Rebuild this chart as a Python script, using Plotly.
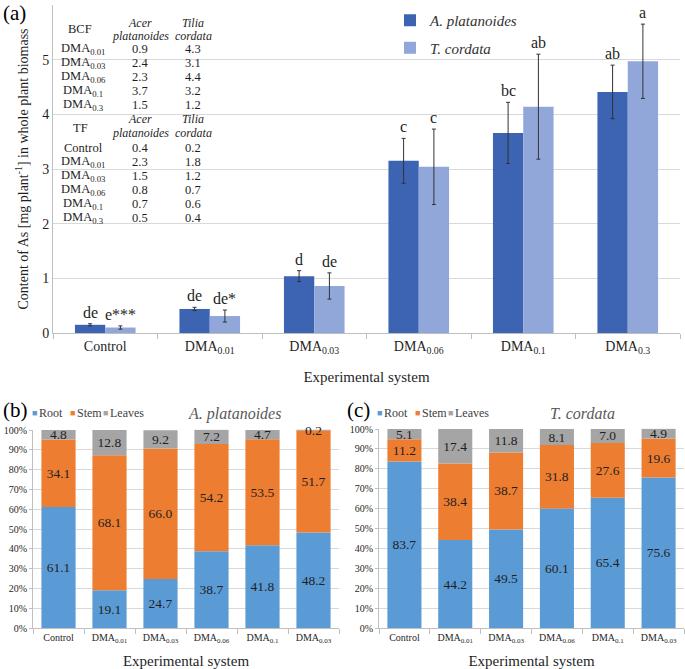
import numpy as np
import plotly.graph_objects as go

W, H = 685, 669
def px(x): return x / W
def py(y): return 1 - y / H

SERIF = "Liberation Serif"

# ---------- Panel (a) data ----------
cats_a = ["Control", "DMA<sub>0.01</sub>", "DMA<sub>0.03</sub>", "DMA<sub>0.06</sub>",
          "DMA<sub>0.1</sub>", "DMA<sub>0.3</sub>"]
acer_vals = [0.15, 0.44, 1.04, 3.15, 3.66, 4.41]
acer_err = [0.02, 0.03, 0.10, 0.41, 0.56, 0.49]
tilia_vals = [0.10, 0.31, 0.86, 3.04, 4.14, 4.97]
tilia_err = [0.03, 0.11, 0.24, 0.69, 0.96, 0.68]
acer_letters = ["de", "de", "d", "c", "bc", "ab"]
tilia_letters = ["e***", "de*", "de", "c", "ab", "a"]

# Table inside panel (a)
bcf_rows = ["DMA<sub>0.01</sub>", "DMA<sub>0.03</sub>", "DMA<sub>0.06</sub>", "DMA<sub>0.1</sub>", "DMA<sub>0.3</sub>"]
bcf_acer = ["0.9", "2.4", "2.3", "3.7", "1.5"]
bcf_tilia = ["4.3", "3.1", "4.4", "3.2", "1.2"]
tf_rows = ["Control", "DMA<sub>0.01</sub>", "DMA<sub>0.03</sub>", "DMA<sub>0.06</sub>", "DMA<sub>0.1</sub>", "DMA<sub>0.3</sub>"]
tf_acer = ["0.4", "2.3", "1.5", "0.8", "0.7", "0.5"]
tf_tilia = ["0.2", "1.8", "1.2", "0.7", "0.6", "0.4"]

# ---------- Panels (b), (c) data ----------
cats_bc = ["Control", "DMA<sub>0.01</sub>", "DMA<sub>0.03</sub>", "DMA<sub>0.06</sub>",
           "DMA<sub>0.1</sub>", "DMA<sub>0.03</sub>"]
parts = ["Root", "Stem", "Leaves"]
ap_root = [61.1, 19.1, 24.7, 38.7, 41.8, 48.2]
ap_stem = [34.1, 68.1, 66.0, 54.2, 53.5, 51.7]
ap_leaves = [4.8, 12.8, 9.2, 7.2, 4.7, 0.2]
tc_root = [83.7, 44.2, 49.5, 60.1, 65.4, 75.6]
tc_stem = [11.2, 38.4, 38.7, 31.8, 27.6, 19.6]
tc_leaves = [5.1, 17.4, 11.8, 8.1, 7.0, 4.9]

C_ACER = "#3D63B3"
C_TILIA = "#91A6D9"
C_ROOT = "#5B9BD5"
C_STEM = "#ED7D31"
C_LEAVES = "#A5A5A5"
GRID = "#D9D9D9"
AXL = "#BFBFBF"
TXT = "#1F1F1F"

fig = go.Figure()
xs = list(range(6))
BW = 0.29

fig.add_trace(go.Bar(
    x=xs, y=acer_vals, width=BW, offset=-BW, name="<i>A. platanoides</i>",
    marker=dict(color=C_ACER, line=dict(width=0)),
    error_y=dict(type="data", array=acer_err, color="#333333", thickness=1, width=2),
    xaxis="x", yaxis="y", legendgroup="a1"))
fig.add_trace(go.Bar(
    x=xs, y=tilia_vals, width=BW, offset=0, name="<i>T. cordata</i>",
    marker=dict(color=C_TILIA, line=dict(width=0)),
    error_y=dict(type="data", array=tilia_err, color="#333333", thickness=1, width=2),
    xaxis="x", yaxis="y", legendgroup="a2"))

annotations = []
for i in range(6):
    annotations.append(dict(x=i - BW / 2, y=acer_vals[i] + acer_err[i], xref="x", yref="y",
                            text=acer_letters[i], showarrow=False, yanchor="bottom", yshift=1,
                            font=dict(family=SERIF, size=16, color=TXT)))
    annotations.append(dict(x=i + BW / 2, y=tilia_vals[i] + tilia_err[i], xref="x", yref="y",
                            text=tilia_letters[i], showarrow=False, yanchor="bottom", yshift=1,
                            font=dict(family=SERIF, size=16, color=TXT)))

colors_bc = [C_ROOT, C_STEM, C_LEAVES]

def add_stack(root, stem, leaves, xa, ya):
    r = np.array(root); s = np.array(stem); l = np.array(leaves)
    segs = [(r, np.zeros(6)), (s, r), (l, r + s)]
    for name, (vals, base), col in zip(parts, segs, colors_bc):
        fig.add_trace(go.Bar(
            x=xs, y=vals, base=base, width=0.67, offset=-0.335, name=name, showlegend=False,
            marker=dict(color=col, line=dict(width=0)),
            text=[f"{v:.1f}" for v in vals], textposition="inside", insidetextanchor="middle",
            constraintext="none", cliponaxis=False,
            textfont=dict(family=SERIF, size=13.5, color=TXT), textangle=0,
            xaxis=xa, yaxis=ya))

add_stack(ap_root, ap_stem, ap_leaves, "x2", "y2")
add_stack(tc_root, tc_stem, tc_leaves, "x3", "y3")

def ptext(x, y, text, size=12.5, color=TXT, xanchor="center"):
    annotations.append(dict(x=px(x), y=py(y), xref="paper", yref="paper", text=text, showarrow=False,
                            xanchor=xanchor, yanchor="middle",
                            font=dict(family=SERIF, size=size, color=color)))

# Table
IT = 12
ptext(80, 29, "BCF"); ptext(140, 23, "<i>Acer</i>", IT); ptext(140, 36, "<i>platanoides</i>", IT)
ptext(193, 23, "<i>Tilia</i>", IT); ptext(193, 36, "<i>cordata</i>", IT)
for k, yy in enumerate([49, 63, 77, 91, 105]):
    ptext(83, yy, bcf_rows[k]); ptext(140, yy, bcf_acer[k]); ptext(193, yy, bcf_tilia[k])
ptext(80, 128, "TF"); ptext(140, 119, "<i>Acer</i>", IT); ptext(140, 133, "<i>platanoides</i>", IT)
ptext(193, 119, "<i>Tilia</i>", IT); ptext(193, 133, "<i>cordata</i>", IT)
for k, yy in enumerate([148, 162, 176, 190, 204, 218]):
    ptext(83, yy, tf_rows[k]); ptext(140, yy, tf_acer[k]); ptext(193, yy, tf_tilia[k])

# panel labels & titles
for lbl, x, y in [("(a)", 14, 13), ("(b)", 15, 410), ("(c)", 358, 410)]:
    ptext(x, y, lbl, size=21, color="black")
ptext(234, 414, "<i>A. platanoides</i>", size=16, color="#595959")
ptext(582, 413, "<i>T. cordata</i>", size=16, color="#595959")

# manual legends for (b), (c)
for x0 in (30, 375):
    offs = [0, 38, 71]
    for k in range(3):
        ptext(x0 + offs[k], 413, "■", size=9, color=colors_bc[k], xanchor="left")
        ptext(x0 + offs[k] + 7, 413, parts[k], size=12, color="#404040", xanchor="left")

axfont_big = dict(family=SERIF, size=14, color=TXT)
axfont_small = dict(family=SERIF, size=10, color=TXT)
minor_x = dict(tickmode="array", tickvals=[i - 0.5 for i in range(7)], ticks="outside",
               ticklen=5, tickcolor=AXL)
YTOP = 100.25

fig.update_layout(
    width=W, height=H, margin=dict(l=0, r=0, t=0, b=0),
    paper_bgcolor="white", plot_bgcolor="white",
    barmode="overlay", showlegend=True,
    uniformtext=dict(minsize=13.5, mode="show"),
    annotations=annotations,
    xaxis=dict(domain=[px(53), px(680)], anchor="y", range=[-0.5, 5.5], automargin=False,
               tickmode="array", tickvals=xs, ticktext=cats_a, ticks="",
               tickfont=axfont_big, showline=True, linecolor=AXL, showgrid=False, zeroline=False,
               minor=minor_x,
               title=dict(text="Experimental system", font=dict(family=SERIF, size=15, color=TXT), standoff=16)),
    yaxis=dict(domain=[py(333), py(5)], anchor="x", range=[0, 6], dtick=1, automargin=False,
               tickfont=axfont_big, showline=True, linecolor=AXL, gridcolor=GRID, zeroline=False,
               ticks="", title=dict(text="Content of As [mg plant<sup>-1</sup>] in whole plant biomass",
                                    font=dict(family=SERIF, size=14, color=TXT), standoff=10)),
    xaxis2=dict(domain=[px(33), px(339)], anchor="y2", range=[-0.5, 5.5], automargin=False,
                tickmode="array", tickvals=xs, ticktext=cats_bc, ticks="",
                tickfont=axfont_small, showline=True, linecolor=AXL, showgrid=False, zeroline=False,
                minor=minor_x,
                title=dict(text="Experimental system", font=dict(family=SERIF, size=15, color=TXT), standoff=14)),
    yaxis2=dict(domain=[py(628), py(429.5)], anchor="x2", range=[0, YTOP], dtick=10, ticksuffix="%",
                automargin=False,
                tickfont=axfont_small, showline=True, linecolor=AXL, gridcolor=GRID, zeroline=False,
                ticks="outside", ticklen=3, tickcolor=AXL),
    xaxis3=dict(domain=[px(379), px(684)], anchor="y3", range=[-0.5, 5.5], automargin=False,
                tickmode="array", tickvals=xs, ticktext=cats_bc, ticks="",
                tickfont=axfont_small, showline=True, linecolor=AXL, showgrid=False, zeroline=False,
                minor=minor_x,
                title=dict(text="Experimental system", font=dict(family=SERIF, size=15, color=TXT), standoff=14)),
    yaxis3=dict(domain=[py(628), py(428.5)], anchor="x3", range=[0, YTOP], dtick=10, ticksuffix="%",
                automargin=False,
                tickfont=axfont_small, showline=True, linecolor=AXL, gridcolor=GRID, zeroline=False,
                ticks="outside", ticklen=3, tickcolor=AXL),
    legend=dict(x=px(390), y=py(4), xanchor="left", yanchor="top", orientation="v",
                bgcolor="rgba(0,0,0,0)", font=dict(family=SERIF, size=15, color="#333333"),
                traceorder="grouped", tracegroupgap=5, itemwidth=30),
)

fig.write_html("out.html", config={"displayModeBar": False},
               post_script="document.body.style.margin='0px';")
